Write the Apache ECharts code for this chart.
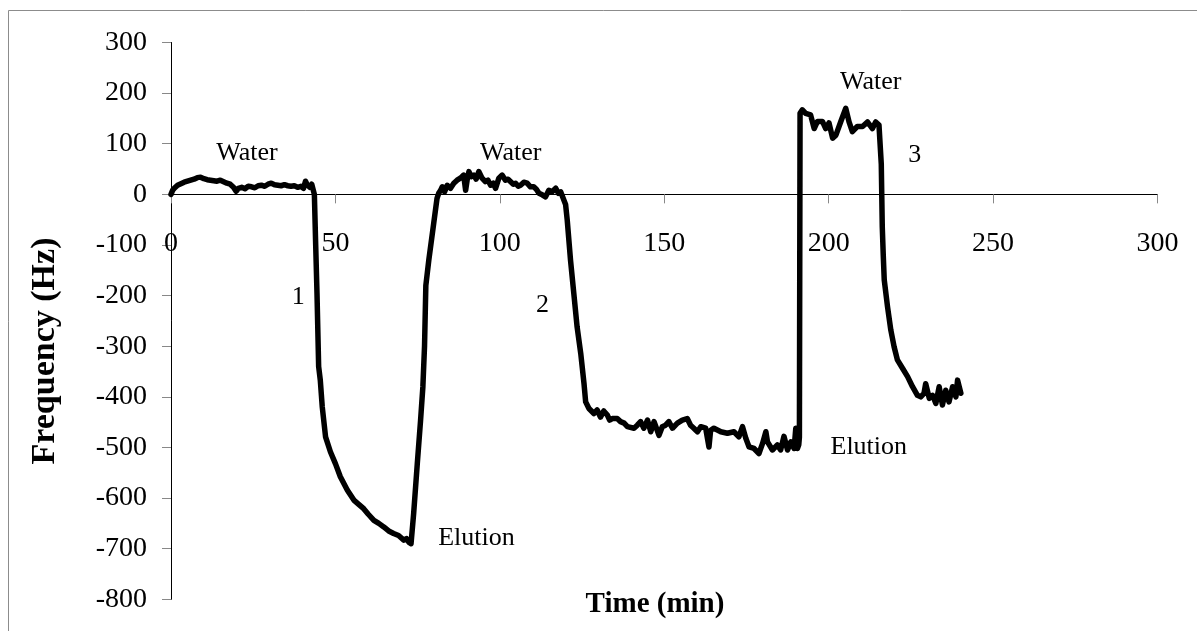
<!DOCTYPE html>
<html>
<head>
<meta charset="utf-8">
<script src="https://cdn.jsdelivr.net/npm/echarts@6/dist/echarts.min.js"></script>
<style>
html,body{margin:0;padding:0;background:#fff;}
#chart{width:1197px;height:631px;}
</style>
</head>
<body>
<div id="chart"></div>
<script>
// Time (min)
var timeMin = [
 0,0.5,1,2,3,4,5,6,7,8,9,10,11,12,13,14,15,16,17,18,19,19.8,20.5,21.5,22.5,23.5,24.5,25.5,26.5,27.5,28.5,29.5,30.5,31.5,32.5,33.5,34.5,35.5,36.5,37.5,38.5,39.5,40.3,40.9,41.5,42.2,42.8,43.3,
 43.6,44.0,44.4,44.9,45.4,46.0,47.0,48.5,50.0,51.5,53.6,55.6,57.0,58.6,60.0,61.7,63.2,64.7,66.2,67.7,69.2,70.8,71.6,72.3,73.0,
 73.8,74.9,75.9,76.6,77.1,77.5,78.4,79.9,80.9,81.4,
 82.0,82.5,83.2,84.0,85.0,86.0,87.0,88.0,89.0,89.6,90.1,90.6,91.3,92.1,92.8,93.6,94.6,95.6,96.4,97.2,98.0,98.7,99.7,100.7,101.7,102.5,103.3,104.1,104.8,105.6,106.3,107.3,108.3,109.3,110.3,111.1,111.9,112.9,113.9,114.9,115.9,117.0,117.8,118.5,119.0,
 120.0,120.5,121.5,122.5,123.5,124.6,125.6,126.1,
 127.1,128.6,129.6,130.6,131.6,132.7,133.4,134.2,135.7,136.7,137.8,138.8,140.8,141.8,142.8,143.8,144.9,145.9,146.9,148.4,149.4,150.4,151.4,152.5,154.0,155.5,157.0,158.0,159.0,160.1,161.1,162.6,163.6,164.1,165.1,167.2,169.2,171.2,172.7,173.8,174.8,175.8,177.3,178.8,179.9,180.9,181.4,182.9,184.4,185.4,186.4,187.5,188.5,189.5,190.0,190.5,190.9,
 191.1,191.3,192.0,193.0,193.5,194.5,195.6,196.6,198.1,199.1,200.1,201.2,202.2,203.7,205.2,206.2,207.2,208.7,210.3,211.8,213.3,214.3,215.3,215.8,
 216.0,216.3,216.6,216.9,217.9,218.9,219.9,220.9,222.5,224.0,225.5,227.0,228.0,229.0,229.5,230.6,231.6,232.6,233.6,234.6,235.6,236.6,237.7,238.7,239.2,240.2
];
// Frequency (Hz)
var frequencyHz = [
 0,8,12,18,21,24,26,28,30,33,34,31,29,28,27,26,28,25,22,20,14,6,12,14,11,16,15,13,17,18,16,20,22,19,18,17,19,17,16,17,14,16,12,26,18,14,20,18,
 0,-100,-196,-340,-367,-420,-479,-509,-532,-558,-584,-604,-612,-621,-632,-644,-650,-657,-665,-670,-674,-683,-680,-687,-690,
 -630,-532,-446,-380,-300,-180,-130,-57,-8,2,
 8,15,5,18,12,22,28,32,38,8,30,45,35,38,30,45,32,25,28,18,22,12,32,38,28,30,25,20,22,16,18,24,22,15,15,10,2,-1,-5,8,5,12,2,5,8,
 -20,-51,-130,-196,-262,-314,-374,-410,
 -423,-433,-426,-440,-428,-436,-446,-443,-443,-449,-452,-459,-462,-456,-449,-462,-446,-469,-449,-476,-459,-456,-449,-462,-452,-446,-443,-456,-462,-469,-459,-462,-499,-466,-462,-469,-472,-469,-479,-459,-482,-499,-502,-512,-492,-469,-489,-505,-495,-505,-478,-505,-489,-502,-462,-502,-495,
 -480,160,167,160,163,157,130,144,144,130,141,111,117,144,170,143,124,134,134,143,130,143,137,140,
 60,-64,-120,-169,-222,-268,-301,-327,-344,-360,-380,-397,-400,-393,-374,-403,-397,-413,-380,-416,-387,-410,-380,-400,-367,-393
];
// Annotation texts and their anchor positions in data units
var noteText = ['Water','Water','Water','1','2','3','Elution','Elution'];
var noteTime = [23.1, 103.3, 212.8, 38.7, 113, 226.2, 92.9, 212.2];
var noteFreq = [81.6, 81.6, 222, -203, -219, 77.7, -679, -499];
// Axis ticks
var xTicks = {min:0, max:300, interval:50};
var yTicks = {min:-800, max:300, interval:100};

var lineData = timeMin.map(function(t,i){return [t, frequencyHz[i]];});
var noteData = noteText.map(function(s,i){return [noteTime[i], noteFreq[i], s];});

var W = 1197, H = 631;
var gridTop = 42.5, gridBottom = 31.7;
var gridH = H - gridTop - gridBottom;
// place the x axis where y = 0 on the y scale
var xAxisOffset = -gridH * (0 - yTicks.min) / (yTicks.max - yTicks.min);

var FONT = '"Liberation Serif","Times New Roman",serif';
var chart = echarts.init(document.getElementById('chart'), null, {renderer:'canvas'});
chart.setOption({
  animation:false,
  backgroundColor:'#ffffff',
  grid:{left:171, right:39.5, top:gridTop, bottom:gridBottom, containLabel:false, outerBoundsMode:'none'},
  xAxis:{
    type:'value', min:xTicks.min, max:xTicks.max, interval:xTicks.interval,
    position:'bottom', offset:xAxisOffset,
    axisLine:{show:true, onZero:false, lineStyle:{color:'#000', width:1}},
    axisTick:{show:true, inside:false, length:9, lineStyle:{color:'#888', width:1}},
    axisLabel:{show:true, margin:35, color:'#000', fontFamily:FONT, fontSize:28},
    splitLine:{show:false}
  },
  yAxis:{
    type:'value', min:yTicks.min, max:yTicks.max, interval:yTicks.interval,
    axisLine:{show:true, onZero:false, lineStyle:{color:'#000', width:1}},
    axisTick:{show:true, inside:false, length:9, lineStyle:{color:'#888', width:1}},
    axisLabel:{show:true, margin:24, color:'#000', fontFamily:FONT, fontSize:28},
    splitLine:{show:false}
  },
  series:[
    {
      type:'line', data:lineData, showSymbol:false, symbol:'none', smooth:false,
      lineStyle:{color:'#000', width:5.5, join:'round', cap:'round'},
      z:3
    },
    {
      type:'scatter', data:noteData, symbolSize:0.01,
      itemStyle:{color:'#000', opacity:1},
      label:{show:true, position:'inside', color:'#000', opacity:1, textBorderWidth:0, textBorderColor:'transparent',
        fontFamily:FONT, fontSize:26,
        formatter:function(p){return p.data[2];}},
      emphasis:{disabled:true},
      z:4
    }
  ],
  graphic:[
    {type:'rect', shape:{x:8.5, y:10.5, width:1200, height:700}, style:{fill:'none', stroke:'#8c8c8c', lineWidth:1}, silent:true, z:0},
    {type:'text', x:655, y:605, style:{text:'Time (min)', fontFamily:FONT, fontWeight:'bold', fontSize:29, fill:'#000', textAlign:'center', textVerticalAlign:'middle'}},
    {type:'text', x:45, y:351, rotation:Math.PI/2, style:{text:'Frequency (Hz)', fontFamily:FONT, fontWeight:'bold', fontSize:34, fill:'#000', textAlign:'center', textVerticalAlign:'middle'}}
  ]
});
</script>
</body>
</html>
